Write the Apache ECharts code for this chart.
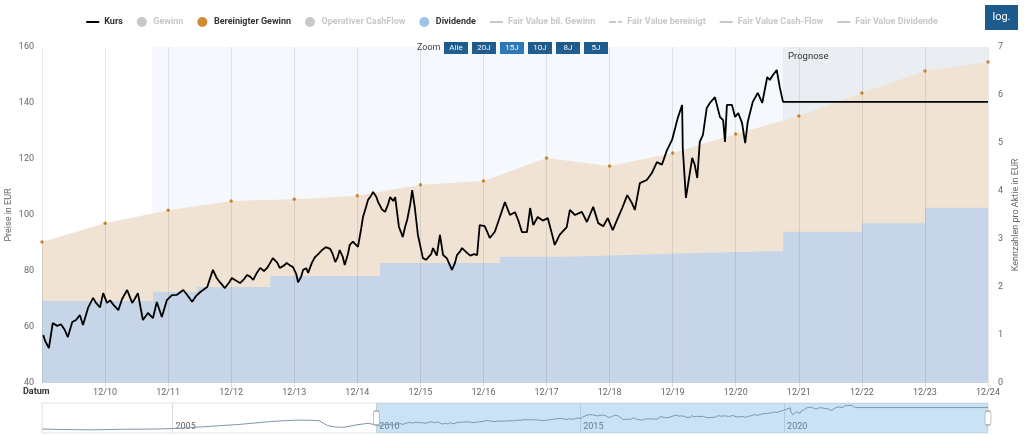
<!DOCTYPE html>
<html><head><meta charset="utf-8">
<script src="https://cdn.jsdelivr.net/npm/echarts@6/dist/echarts.min.js"></script>
<style>html,body{margin:0;padding:0;background:#fff}#c{width:1024px;height:438px}</style>
</head><body><div id="c"></div>
<script>
// Kurs (Preis in EUR), Zeit als Dezimaljahr
const kurs = [
[2010.02,57.1],[2010.05,55],[2010.11,52.5],[2010.17,61.4],[2010.24,60.4],[2010.30,61],[2010.36,59],[2010.41,56.4],
[2010.48,61.8],[2010.54,62.5],[2010.60,64.3],[2010.65,60.7],[2010.73,66.8],[2010.81,70.4],[2010.86,68.5],[2010.92,67],
[2010.97,72.1],[2011.03,68.6],[2011.08,69.5],[2011.13,68],[2011.21,66],[2011.27,70],[2011.35,73.2],[2011.43,68.6],
[2011.47,70],[2011.52,72.1],[2011.60,62.5],[2011.68,65],[2011.76,63.2],[2011.82,68.9],[2011.90,63.6],[2011.98,69.6],
[2012.06,71.4],[2012.14,71.5],[2012.24,73.2],[2012.30,71.5],[2012.38,69],[2012.44,71],[2012.51,72.5],[2012.62,74.3],
[2012.66,77],[2012.71,80.4],[2012.77,77.5],[2012.82,76],[2012.90,73.9],[2012.97,76],[2013.01,77.5],[2013.08,76.5],
[2013.14,75.7],[2013.20,77],[2013.25,78.6],[2013.30,78],[2013.35,76.8],[2013.41,79.5],[2013.46,81.1],[2013.52,80],
[2013.57,81.1],[2013.62,83],[2013.66,84.6],[2013.73,83],[2013.77,81.1],[2013.84,82],[2013.88,82.9],[2013.93,82],
[2013.98,81.4],[2014.03,79],[2014.06,76],[2014.11,78],[2014.14,80.4],[2014.19,81],[2014.22,79.3],[2014.28,83],
[2014.33,85],[2014.38,86],[2014.44,87.5],[2014.50,88.5],[2014.57,87.9],[2014.61,86],[2014.65,83.2],[2014.69,85],
[2014.72,87.5],[2014.77,85],[2014.80,82.1],[2014.85,86],[2014.88,89.3],[2014.93,90.5],[2014.96,91.1],[2015.01,88.6],
[2015.06,95],[2015.09,99.3],[2015.14,103],[2015.17,105.4],[2015.22,107],[2015.25,108.2],[2015.30,106.5],[2015.33,104.6],
[2015.39,102],[2015.44,101.1],[2015.49,104],[2015.52,106.4],[2015.57,105],[2015.60,106.4],[2015.63,101],[2015.66,95.7],
[2015.69,94],[2015.72,92.1],[2015.76,96],[2015.79,98.2],[2015.84,104],[2015.87,108.9],[2015.91,102.9],[2015.95,95],
[2015.96,92.9],[2015.99,93],[2016.04,84.6],[2016.09,84],[2016.12,83.9],[2016.17,86],[2016.20,88.2],[2016.26,85.5],
[2016.31,92.9],[2016.36,85.7],[2016.42,84.5],[2016.50,80.4],[2016.55,83],[2016.58,85.7],[2016.63,87],[2016.66,88.2],
[2016.74,86.5],[2016.79,85.5],[2016.85,86],[2016.90,85.7],[2016.94,96.4],[2017.02,96],[2017.10,91.8],[2017.18,94],
[2017.26,99.3],[2017.34,104.6],[2017.42,100],[2017.50,101],[2017.55,98.2],[2017.61,93.9],[2017.69,93.9],[2017.74,102.5],
[2017.79,96.4],[2017.86,99.3],[2017.94,98],[2018.02,98.9],[2018.09,92.9],[2018.13,89.3],[2018.21,93],[2018.32,95.7],
[2018.37,101.8],[2018.45,100],[2018.56,101.1],[2018.64,97.5],[2018.74,102.9],[2018.82,97.1],[2018.90,96],[2018.97,98.9],
[2019.05,94.6],[2019.13,98.9],[2019.20,102.5],[2019.28,107.1],[2019.36,104],[2019.40,101.8],[2019.48,111.4],[2019.59,112.5],
[2019.67,115],[2019.75,118.9],[2019.83,118],[2019.91,123.2],[2019.99,126.8],[2020.04,131.1],[2020.08,134.6],[2020.15,139.3],
[2020.16,123.9],[2020.21,106.1],[2020.24,106.1],[2020.31,120.4],[2020.35,117.9],[2020.39,113.2],[2020.43,126.1],[2020.48,128.6],
[2020.54,138.2],[2020.59,140],[2020.67,142.1],[2020.75,135],[2020.80,133.9],[2020.83,126.1],[2020.86,139.3],[2020.94,139.3],
[2020.99,135],[2021.04,136.4],[2021.10,132.9],[2021.15,125.7],[2021.19,133.2],[2021.27,140.4],[2021.35,143.6],[2021.42,140],
[2021.50,149.3],[2021.54,148.2],[2021.59,150],[2021.65,151.8],[2021.70,145.4],[2021.75,140.4]
];
const kursPrognose = [[2021.75,140.4],[2025,140.4]];
// Kursverlauf vor 2010 (nur Navigator)
const navHistorie = [
[2001.8,39],[2002.2,37],[2002.6,36],[2003.0,35],[2003.4,36],[2003.8,38],[2004.2,38],[2004.6,39],[2005.0,41],
[2005.4,45],[2005.8,50],[2006.2,55],[2006.6,60],[2007.0,67],[2007.4,74],[2007.8,79],[2008.1,81],[2008.4,80],
[2008.6,78],[2008.8,55],[2009.0,48],[2009.2,47],[2009.5,58],[2009.8,66],[2009.95,60]
];
// Kennzahlen pro Aktie (EUR)
const bereinigterGewinn = [
[2010,2.94],[2011,3.33],[2012,3.60],[2013,3.79],[2014,3.83],[2015,3.90],[2016,4.13],[2017,4.21],
[2018,4.69],[2019,4.52],[2020,4.79],[2021,5.19],[2022,5.56],[2023,6.04],[2024,6.50],[2025,6.69]
];
const dividende = [
[2010,1.71],[2011.76,1.90],[2012.46,2.00],[2013.62,2.23],[2015.36,2.50],[2017.26,2.63],[2018.32,2.67],
[2019.4,2.71],[2020.4,2.75],[2021.75,3.15],[2023.0,3.33],[2024.0,3.65],[2025.0,3.65]
];
const prognoseStart = 2021.75, zeitraumStart = 2011.75, achsenEnde = 2025, achsenStart = 2010;
const navStart = 2001.8;
const navLabels = [2005, 2010, 2015, 2020];
const zoomButtons = ['Alle','20J','15J','10J','8J','5J'];
const inaktiv = ['Gewinn','Operativer CashFlow','Fair Value bil. Gewinn','Fair Value bereinigt','Fair Value Cash-Flow','Fair Value Dividende'];

const FONT = 'Roboto';
const chart = echarts.init(document.getElementById('c'));
const lineIcon = 'path://M0,0h13v2h-13z';
const selected = {};
inaktiv.forEach(n => selected[n] = false);

const emptySeries = inaktiv.map(n => ({
  name: n, type: 'line', data: [], color: '#bbb', xAxisIndex: 0, yAxisIndex: 1
}));

const graphics = [
  {type:'rect', shape:{x:985,y:5,width:33,height:25}, style:{fill:'#1d5b8c'},
   textContent:{style:{text:'log.', fill:'#fff', font:'11px '+FONT}}, textConfig:{position:'inside'}},
  {type:'text', x:417, y:48, style:{text:'Zoom', fill:'#444', font:'9px '+FONT, textVerticalAlign:'middle'}},
  {type:'text', x:23, y:392, style:{text:'Datum', fill:'#333', font:'bold 9px '+FONT, textVerticalAlign:'middle'}}
];
zoomButtons.forEach((b, i) => {
  graphics.push({type:'rect', shape:{x:444+i*28, y:42, width:24, height:12},
    style:{fill: b === '15J' ? '#2a78b8' : '#1d5b8c'},
    textContent:{style:{text:b, fill:'#fff', font:'8px '+FONT}}, textConfig:{position:'inside'}});
});

const option = {
  animation: false,
  backgroundColor: '#fff',
  textStyle: {fontFamily: FONT},
  legend: {
    top: 12, left: 'center', itemWidth: 13, itemHeight: 10, itemGap: 14,
    textStyle: {fontFamily: FONT, fontSize: 9, fontWeight: 'bold', color: '#333'},
    inactiveColor: '#c8c8c8',
    selected: selected,
    data: [
      {name:'Kurs', icon: lineIcon},
      {name:'Gewinn', icon:'circle'},
      {name:'Bereinigter Gewinn', icon:'circle'},
      {name:'Operativer CashFlow', icon:'circle'},
      {name:'Dividende', icon:'circle'},
      {name:'Fair Value bil. Gewinn', icon: lineIcon},
      {name:'Fair Value bereinigt', icon:'path://M0,0h7v2h-7z M9,0h4v2h-4z'},
      {name:'Fair Value Cash-Flow', icon:'path://M0,0h13v2h-13z'},
      {name:'Fair Value Dividende', icon: lineIcon}
    ]
  },
  grid: [
    {left: 42, right: 36, top: 47, bottom: 55, containLabel: false, outerBoundsMode: 'none'},
    {left: 42, right: 36, top: 403, height: 30, containLabel: false, outerBoundsMode: 'none',
     show: true, borderColor: '#e2e2e2', borderWidth: 1}
  ],
  xAxis: [
    {type:'value', gridIndex:0, min: achsenStart, max: achsenEnde, interval: 1, z: 5,
     axisLine:{show:false}, axisTick:{show:true, length:4, lineStyle:{color:'#ddd'}},
     splitLine:{show:true, lineStyle:{color:'rgba(0,0,0,0.09)', width:1}},
     axisLabel:{showMinLabel:false, color:'#666', fontSize:9, margin:5, fontFamily:FONT,
       formatter: v => '12/' + String(Math.round(v) - 1).slice(2)}},
    {type:'value', gridIndex:1, min: navStart, max: achsenEnde,
     axisLine:{show:false},
     axisTick:{show:false, customValues: navLabels},
     splitLine:{show:true, lineStyle:{color:'#dcdcdc'}},
     axisLabel:{inside:true, customValues: navLabels, align:'left', color:'#666', fontSize:9, margin:2, padding:[0,0,0,3], fontFamily:FONT,
       formatter: v => String(v)}}
  ],
  yAxis: [
    {type:'value', gridIndex:0, min:40, max:160, interval:20, splitLine:{show:false},
     axisLine:{show:false}, axisTick:{show:false},
     axisLabel:{color:'#666', fontSize:9, margin:8, fontFamily:FONT},
     name:'Preise in EUR', nameLocation:'middle', nameGap:29, nameMoveOverlap:false,
     nameTextStyle:{color:'#666', fontSize:9, fontFamily:FONT}},
    {type:'value', gridIndex:0, position:'right', min:0, max:7, interval:1, splitLine:{show:false},
     axisLine:{show:false}, axisTick:{show:false},
     axisLabel:{color:'#666', fontSize:9, margin:10, fontFamily:FONT},
     name:'Kennzahlen pro Aktie in EUR', nameLocation:'middle', nameGap:23, nameMoveOverlap:false,
     nameTextStyle:{color:'#666', fontSize:9, fontFamily:FONT}},
    {type:'value', gridIndex:1, min:20, max:162, show:false}
  ],
  series: [
    {name:'Bereinigter Gewinn', type:'line', xAxisIndex:0, yAxisIndex:1, data: bereinigterGewinn,
     color:'#d38b33', symbol:'circle', symbolSize:3.5, showSymbol:true,
     lineStyle:{width:0}, areaStyle:{color:'#f0e3d3', opacity:1}, z:2},
    {name:'Dividende', type:'line', xAxisIndex:0, yAxisIndex:1, data: dividende, step:'end',
     color:'#9cc4ea', showSymbol:false, lineStyle:{width:0},
     areaStyle:{color:'#c6d6e8', opacity:1}, z:3},
    {name:'Kurs', type:'line', xAxisIndex:0, yAxisIndex:0, data: kurs.concat(kursPrognose),
     color:'#000', showSymbol:false, lineStyle:{width:1.8, color:'#000'}, z:6,
     markArea:{silent:true, data:[
       [{xAxis: zeitraumStart, itemStyle:{color:'rgba(90,150,230,0.06)'}}, {xAxis: prognoseStart}],
       [{name:'Prognose', xAxis: prognoseStart, itemStyle:{color:'rgba(80,105,150,0.12)'},
         label:{show:true, position:'insideTopLeft', color:'#333', fontSize:9.5, fontFamily:FONT, distance:5}},
        {xAxis: achsenEnde}]
     ]}},
    ...emptySeries,
    {name:'Navigator', type:'line', xAxisIndex:1, yAxisIndex:2, data: navHistorie.concat(kurs, kursPrognose),
     color:'#7f93a8', showSymbol:false, lineStyle:{width:1, color:'#8096ab'}, z:3,
     markArea:{silent:true, data:[[{xAxis: achsenStart, itemStyle:{color:'rgba(100,176,224,0.35)'}}, {xAxis: achsenEnde}]]},
     markPoint:{silent:true, symbol:'roundRect', symbolSize:[6,14], label:{show:false},
       itemStyle:{color:'#fff', borderColor:'#aaa', borderWidth:1},
       data:[{coord:[achsenStart, 91]}, {coord:[achsenEnde, 91]}]}}
  ],
  graphic: graphics
};
chart.setOption(option);
</script>
</body></html>
